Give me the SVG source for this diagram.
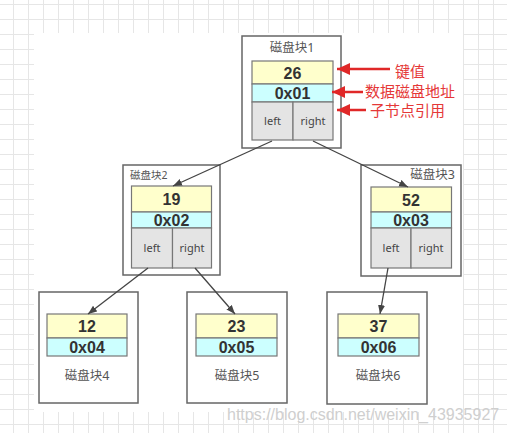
<svg xmlns="http://www.w3.org/2000/svg" width="507" height="433" viewBox="0 0 507 433">
<style>
.outer{fill:#fff;stroke:#666;stroke-width:1.5}
.key{fill:#ffffcc;stroke:#777;stroke-width:1.2}
.addr{fill:#ccffff;stroke:#777;stroke-width:1.2}
.cell{fill:#e4e4e4;stroke:#777;stroke-width:1.2}
.num{font-family:"Liberation Sans",Arial,sans-serif;font-weight:bold;font-size:16px;fill:#333;text-anchor:middle}
.lr{font-family:"Noto Sans","Liberation Sans",sans-serif;font-size:11px;fill:#444;text-anchor:middle}
.title{font-family:"Noto Sans","Noto Sans CJK SC",sans-serif;font-size:12.5px;fill:#555}
.ann{font-family:"Noto Sans","Noto Sans CJK SC",sans-serif;font-size:15px;fill:#e53838}
.conn{stroke:#444;stroke-width:1.3;fill:none}
.red{stroke:#e02828;stroke-width:2.5;fill:none}
</style>
<defs>
<pattern id="grid" x="13" y="4" width="15" height="15" patternUnits="userSpaceOnUse">
<path d="M0.5,0 V15 M0,0.5 H15" stroke="#e6e6e6" stroke-width="1" fill="none"/>
</pattern>
<marker id="ah" markerUnits="userSpaceOnUse" markerWidth="10" markerHeight="8" refX="9" refY="4" orient="auto">
<path d="M0,0.5 L9,4 L0,7.5 z" fill="#444"/>
</marker>
<marker id="rh" markerUnits="userSpaceOnUse" markerWidth="14" markerHeight="12" refX="13" refY="6" orient="auto">
<path d="M0,0 L13,6 L0,12 z" fill="#e02828"/>
</marker>
</defs>
<rect x="0" y="0" width="507" height="433" fill="#fff"/>
<rect x="0" y="0" width="507" height="433" fill="url(#grid)"/>
<rect x="34" y="33" width="429" height="379" fill="#fff"/>

<g id="block1">
<rect class="outer" x="242" y="36" width="99" height="112"/>
<text class="title" x="292" y="52" text-anchor="middle">磁盘块1</text>
<rect class="key" x="252" y="61" width="81" height="23"/>
<rect class="addr" x="252" y="84" width="81" height="18"/>
<rect class="cell" x="252" y="102" width="41" height="38"/>
<rect class="cell" x="293" y="102" width="40" height="38"/>
<text class="num" x="292.5" y="78.5">26</text>
<text class="num" x="292.5" y="98.5">0x01</text>
<text class="lr" x="272.5" y="125">left</text>
<text class="lr" x="313" y="125">right</text>
</g>

<g id="block2">
<rect class="outer" x="123" y="165" width="97" height="110"/>
<text class="title" x="130" y="179" style="font-size:10.5px">磁盘块2</text>
<rect class="key" x="131.5" y="186" width="80" height="26"/>
<rect class="addr" x="131.5" y="212" width="80" height="16"/>
<rect class="cell" x="131.5" y="228" width="41" height="40"/>
<rect class="cell" x="172.5" y="228" width="39" height="40"/>
<text class="num" x="171.5" y="205">19</text>
<text class="num" x="171.5" y="225.5">0x02</text>
<text class="lr" x="152" y="252">left</text>
<text class="lr" x="192" y="252">right</text>
</g>

<g id="block3">
<rect class="outer" x="361" y="165" width="100" height="111"/>
<text class="title" x="455" y="179" text-anchor="end">磁盘块3</text>
<rect class="key" x="371" y="187" width="80.5" height="25"/>
<rect class="addr" x="371" y="212" width="80.5" height="16"/>
<rect class="cell" x="371" y="228" width="40" height="40"/>
<rect class="cell" x="411" y="228" width="40.5" height="40"/>
<text class="num" x="411" y="205.5">52</text>
<text class="num" x="411" y="225.5">0x03</text>
<text class="lr" x="391" y="252">left</text>
<text class="lr" x="431" y="252">right</text>
</g>

<g id="block4">
<rect class="outer" x="39" y="292" width="99" height="111"/>
<rect class="key" x="47" y="314" width="80" height="24"/>
<rect class="addr" x="47" y="338" width="80" height="18"/>
<text class="num" x="87" y="332">12</text>
<text class="num" x="87" y="352.5">0x04</text>
<text class="title" x="87" y="380" text-anchor="middle">磁盘块4</text>
</g>

<g id="block5">
<rect class="outer" x="187" y="292" width="100" height="111"/>
<rect class="key" x="196" y="314" width="81" height="24"/>
<rect class="addr" x="196" y="338" width="81" height="18"/>
<text class="num" x="236.5" y="332">23</text>
<text class="num" x="236.5" y="352.5">0x05</text>
<text class="title" x="237" y="380" text-anchor="middle">磁盘块5</text>
</g>

<g id="block6">
<rect class="outer" x="327" y="292" width="100" height="112"/>
<rect class="key" x="338" y="314" width="81" height="24"/>
<rect class="addr" x="338" y="338" width="81" height="18"/>
<text class="num" x="378.5" y="332">37</text>
<text class="num" x="378.5" y="352.5">0x06</text>
<text class="title" x="378" y="380" text-anchor="middle">磁盘块6</text>
</g>

<g id="connectors">
<line class="conn" x1="272" y1="141" x2="173" y2="186" marker-end="url(#ah)"/>
<line class="conn" x1="313" y1="141" x2="408" y2="187" marker-end="url(#ah)"/>
<line class="conn" x1="148" y1="268" x2="88" y2="314" marker-end="url(#ah)"/>
<line class="conn" x1="195" y1="268" x2="235" y2="314" marker-end="url(#ah)"/>
<line class="conn" x1="388" y1="268" x2="380" y2="314" marker-end="url(#ah)"/>
</g>

<g id="annotations">
<line class="red" x1="390" y1="69" x2="337" y2="69" marker-end="url(#rh)"/>
<line class="red" x1="363" y1="92" x2="332" y2="92" marker-end="url(#rh)"/>
<line class="red" x1="366" y1="110" x2="337" y2="110" marker-end="url(#rh)"/>
<text class="ann" x="410" y="77" text-anchor="middle">键值</text>
<text class="ann" x="365" y="97">数据磁盘地址</text>
<text class="ann" x="370" y="116">子节点引用</text>
</g>

<text x="227" y="420" style="font-family:'Liberation Sans',Arial,sans-serif;font-size:16px;fill:#cfcfcf">https://blog.csdn.net/weixin_43935927</text>
</svg>
